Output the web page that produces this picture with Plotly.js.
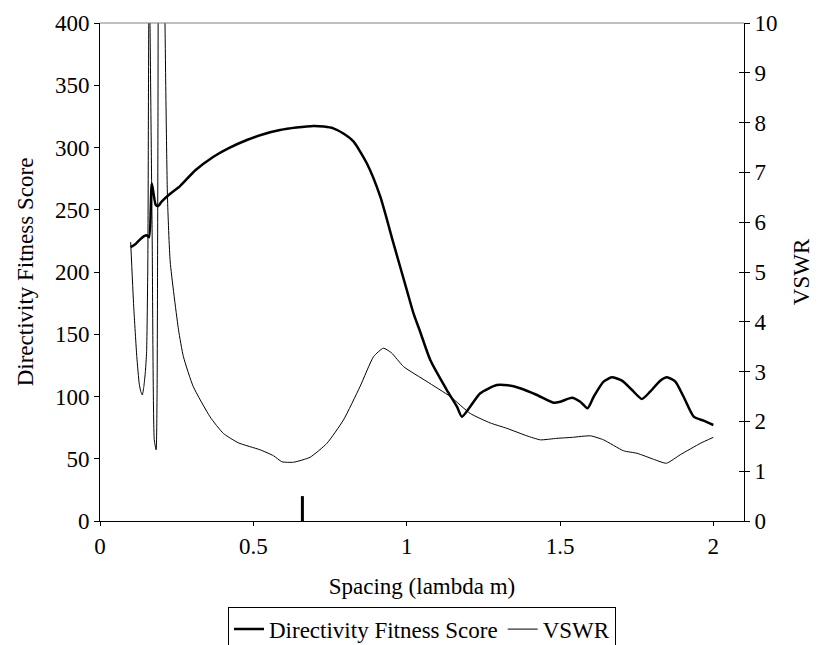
<!DOCTYPE html>
<html>
<head>
<meta charset="utf-8">
<script src="https://cdn.plot.ly/plotly-3.0.1.min.js"></script>
<style>html,body{margin:0;padding:0;background:#fff;}#chart{width:817px;height:645px;}</style>
</head>
<body>
<div id="chart"></div>
<script>
// Directivity Fitness Score (left axis)
const dirX = [0.100,0.114,0.130,0.145,0.152,0.160,0.169,0.182,0.190,0.201,0.230,0.261,0.310,0.370,0.420,0.479,0.530,0.587,0.640,0.696,0.730,0.761,0.795,0.827,0.870,0.914,0.957,1.001,1.022,1.044,1.077,1.131,1.164,1.180,1.207,1.240,1.294,1.330,1.370,1.425,1.479,1.501,1.539,1.566,1.590,1.610,1.642,1.669,1.702,1.735,1.767,1.794,1.827,1.849,1.876,1.903,1.936,1.968,2.000];
const dirY = [220,222,226,229,229.5,228,271,253.8,253,256.5,263,269,281.5,292.6,299.5,306,310.5,314,316,317.3,316.8,315.4,311,304.7,287.3,260.5,223,185,167,152,129.3,105.2,91.8,83.8,91.8,102.6,109.2,109,106.6,101.2,95,95.8,99,95.8,90.5,99.8,111.9,115.4,112.7,105.2,98,103.9,112.7,115.4,111.9,99.8,83.8,80.6,77.1];

// VSWR (right axis)
const vswrX = [0.100,0.110,0.120,0.128,0.133,0.138,0.143,0.148,0.152,0.156,0.159,0.161,0.163,0.170,0.177,0.183,0.186,0.189,0.191,0.200,0.208,0.212,0.220,0.229,0.256,0.272,0.304,0.359,0.402,0.451,0.522,0.566,0.593,0.631,0.685,0.740,0.794,0.848,0.892,0.924,0.950,0.990,1.066,1.142,1.207,1.272,1.327,1.392,1.436,1.490,1.540,1.599,1.642,1.707,1.751,1.805,1.847,1.892,1.958,2.000];
const vswrY = [5.6,4.3,3.3,2.75,2.6,2.53,2.7,3.0,3.4,5.2,10,11,10,5.8,1.63,1.43,2.5,8,14,20,14,10,6.5,5.2,3.84,3.30,2.70,2.09,1.76,1.57,1.43,1.31,1.19,1.18,1.28,1.56,2.03,2.70,3.30,3.47,3.38,3.10,2.80,2.50,2.16,1.97,1.86,1.71,1.63,1.66,1.68,1.71,1.63,1.41,1.36,1.24,1.16,1.33,1.56,1.68];

// Marker bar at optimum spacing
const markX = [0.66, 0.66];
const markY = [0, 20];

const xTicks = [0, 0.5, 1, 1.5, 2];
const xTickText = ['0', '0.5', '1', '1.5', '2'];

const FS = 23;
const font = {family: 'Liberation Serif, Times New Roman, serif', color: '#000', size: FS};

const traces = [
  {x: dirX, y: dirY, type: 'scatter', mode: 'lines', name: 'Directivity Fitness Score',
   line: {color: '#000', width: 2.5, shape: 'spline', smoothing: 0.6}, yaxis: 'y'},
  {x: vswrX, y: vswrY, type: 'scatter', mode: 'lines', name: 'VSWR',
   line: {color: '#000', width: 1, shape: 'spline', smoothing: 0.5}, yaxis: 'y2'},
  {x: markX, y: markY, type: 'scatter', mode: 'lines', showlegend: false, hoverinfo: 'skip',
   line: {color: '#000', width: 3}, yaxis: 'y'},
  {x: [null], y: [null], type: 'scatter', mode: 'lines', showlegend: false, hoverinfo: 'skip', yaxis: 'y3'}
];

const layout = {
  width: 817, height: 645,
  margin: {l: 100, r: 73, t: 23, b: 124, autoexpand: false},
  paper_bgcolor: '#fff', plot_bgcolor: '#fff',
  font: font,
  showlegend: true,
  legend: {orientation: 'h', x: 0.5, xanchor: 'center', y: -0.172, yanchor: 'top',
    bordercolor: '#000', borderwidth: 1, font: font, itemwidth: 30, tracegroupgap: 0},
  xaxis: {range: [0, 2.1], tickvals: xTicks, ticktext: xTickText, ticks: 'outside', ticklen: 4,
    tickcolor: '#000', showline: true, linecolor: '#000', linewidth: 1, showgrid: false, zeroline: false,
    tickfont: font, automargin: false,
    title: {text: 'Spacing (lambda m)', font: font, standoff: 20}},
  yaxis: {range: [0, 400], dtick: 50, ticks: 'outside', ticklen: 5, tickcolor: '#000',
    showline: true, linecolor: '#000', linewidth: 1, showgrid: false, zeroline: false,
    tickfont: font, automargin: false,
    title: {text: 'Directivity Fitness Score', font: font, standoff: 14}},
  yaxis2: {range: [0, 10], dtick: 1, overlaying: 'y', side: 'right', ticks: 'outside', ticklen: 5,
    tickcolor: '#000', showline: true, linecolor: '#000', linewidth: 1, showgrid: false, zeroline: false,
    tickfont: font, automargin: false,
    title: {text: 'VSWR', font: font, standoff: 16}},
  yaxis3: {range: [0, 10], dtick: 1, overlaying: 'y', side: 'right', ticks: 'inside', ticklen: 5,
    tickcolor: '#000', showline: false, showgrid: false, zeroline: false, showticklabels: false},
  shapes: [
    {type: 'line', xref: 'paper', yref: 'paper', x0: 0, x1: 1, y0: 1, y1: 1,
     line: {color: '#808080', width: 1}}
  ]
};

Plotly.newPlot('chart', traces, layout, {displayModeBar: false, staticPlot: true});
</script>
</body>
</html>
